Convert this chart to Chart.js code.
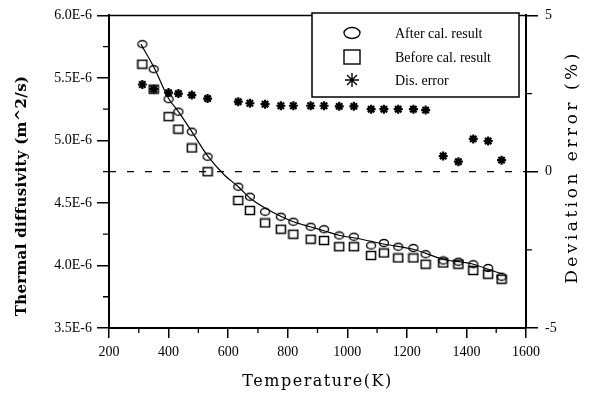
<!DOCTYPE html>
<html>
<head>
<meta charset="utf-8">
<script src="https://cdn.jsdelivr.net/npm/chart.js@4/dist/chart.umd.min.js"></script>
<style>
  html, body { margin: 0; padding: 0; background: #fff; }
  #wrap { width: 590px; height: 399px; }
</style>
</head>
<body>
<div id="wrap"><canvas id="chart"></canvas></div>
<script>
// Measurement temperatures (K)
const temps = [312, 350, 400, 433, 478, 531, 634, 673, 724, 777, 819, 877, 922,
  973, 1022, 1080, 1123, 1171, 1222, 1263, 1322, 1373, 1423, 1473, 1518];
// Thermal diffusivity, in units of 1E-6 m^2/s
const afterCal = [5.77, 5.57, 5.33, 5.23, 5.07, 4.87, 4.63, 4.55, 4.43, 4.39, 4.35, 4.31, 4.29,
  4.24, 4.23, 4.16, 4.18, 4.15, 4.14, 4.09, 4.04, 4.03, 4.01, 3.98, 3.91];
const beforeCal = [5.61, 5.41, 5.19, 5.09, 4.94, 4.75, 4.52, 4.44, 4.34, 4.29, 4.25, 4.21, 4.20,
  4.15, 4.15, 4.08, 4.10, 4.06, 4.06, 4.01, 4.02, 4.01, 3.96, 3.93, 3.89];
// Deviation error (%)
const disError = [2.79, 2.64, 2.53, 2.50, 2.45, 2.34, 2.24, 2.19, 2.16, 2.11, 2.11, 2.11, 2.11,
  2.09, 2.09, 2.00, 2.00, 2.00, 2.00, 1.97, 0.50, 0.32, 1.05, 0.98, 0.37];

// Fitted curve
const curveT = [307, 354, 399, 433, 478, 533, 589, 634, 673, 724, 780, 819, 875, 919,
  975, 1026, 1126, 1221, 1322, 1423, 1473, 1523];
const curveD = [5.77, 5.57, 5.34, 5.23, 5.07, 4.87, 4.72, 4.63, 4.54, 4.46, 4.39, 4.35, 4.31, 4.28,
  4.24, 4.22, 4.17, 4.13, 4.05, 4.01, 3.97, 3.93];

// Zero line of the deviation axis
const zeroT = [200, 1600];
const zeroE = [0, 0];

const seriesLabels = ["After cal. result", "Before cal. result", "Dis. error"];
const xTitle = "Temperature(K)";
const yTitle = "Thermal diffusivity (m^2/s)";
const y2Title = "Deviation error (%)";

const pts = (xs, ys) => xs.map((x, i) => ({x: x, y: ys[i]}));

// markers
function ellipseMarker(w, h) {
  const c = document.createElement('canvas');
  c.width = w + 3; c.height = h + 3;
  const g = c.getContext('2d');
  g.strokeStyle = '#000';
  g.lineWidth = 1.3;
  g.beginPath();
  g.ellipse(c.width / 2, c.height / 2, w / 2, h / 2, 0, 0, Math.PI * 2);
  g.stroke();
  return c;
}
function rectMarker(w, h) {
  const c = document.createElement('canvas');
  c.width = w + 3; c.height = h + 3;
  const g = c.getContext('2d');
  g.strokeStyle = '#000';
  g.lineWidth = 1.5;
  g.strokeRect(1.5, 1.5, w, h);
  return c;
}
const circleImg = ellipseMarker(9, 7);
const squareImg = rectMarker(9, 8);

function minorValues(scale) {
  const t = scale.ticks.map(k => k.value);
  const out = [];
  for (let i = 0; i < t.length - 1; i++) out.push((t[i] + t[i + 1]) / 2);
  return out;
}

// top border + minor ticks
const frame = {
  id: 'frame',
  afterDraw(chart) {
    const {ctx, chartArea: a, scales} = chart;
    ctx.save();
    ctx.strokeStyle = '#000';
    ctx.lineWidth = 1.5;
    ctx.beginPath();
    ctx.moveTo(a.left, a.top);
    ctx.lineTo(a.right, a.top);
    ctx.stroke();
    ctx.lineWidth = 1.3;
    ctx.beginPath();
    minorValues(scales.x).forEach(v => {
      const p = scales.x.getPixelForValue(v);
      ctx.moveTo(p, a.bottom); ctx.lineTo(p, a.bottom + 5);
    });
    minorValues(scales.y).forEach(v => {
      const p = scales.y.getPixelForValue(v);
      ctx.moveTo(a.left, p); ctx.lineTo(a.left - 6, p);
    });
    minorValues(scales.y2).forEach(v => {
      const p = scales.y2.getPixelForValue(v);
      ctx.moveTo(a.right, p); ctx.lineTo(a.right + 6, p);
    });
    ctx.stroke();
    ctx.restore();
  }
};

// axis titles (drawn here for letter spacing)
const axisTitles = {
  id: 'axisTitles',
  afterDraw(chart) {
    const {ctx, chartArea: a} = chart;
    ctx.save();
    ctx.fillStyle = '#000';
    ctx.textAlign = 'center';
    ctx.textBaseline = 'middle';

    ctx.font = '16px "DejaVu Serif"';
    ctx.letterSpacing = '1.5px';
    ctx.fillText(xTitle, (a.left + a.right) / 2, chart.height - 17);

    ctx.font = 'bold 15px "DejaVu Serif"';
    ctx.letterSpacing = '0.3px';
    ctx.save();
    ctx.translate(22, 196);
    ctx.rotate(-Math.PI / 2);
    ctx.fillText(yTitle, 0, 0);
    ctx.restore();

    ctx.font = '17px "DejaVu Serif"';
    ctx.letterSpacing = '3.5px';
    ctx.save();
    ctx.translate(573, 167);
    ctx.rotate(-Math.PI / 2);
    ctx.fillText(y2Title, 0, 0);
    ctx.restore();
    ctx.restore();
  }
};

// boxed legend inside the plot
const boxLegend = {
  id: 'boxLegend',
  afterDraw(chart) {
    const ctx = chart.ctx;
    const bx = 312, by = 13, bw = 207, bh = 84;
    ctx.save();
    ctx.fillStyle = '#fff';
    ctx.fillRect(bx, by, bw, bh);
    ctx.strokeStyle = '#000';
    ctx.lineWidth = 1.5;
    ctx.strokeRect(bx, by, bw, bh);

    const sx = 352, rows = [33, 57, 80];
    ctx.lineWidth = 1.3;
    ctx.beginPath();
    ctx.ellipse(sx, rows[0], 8, 5.5, 0, 0, Math.PI * 2);
    ctx.stroke();
    ctx.lineWidth = 1.4;
    ctx.strokeRect(sx - 8, rows[1] - 7, 16, 14);
    Chart.helpers.drawPoint(ctx, {pointStyle: 'star', radius: 7, borderWidth: 1.5}, sx, rows[2]);

    ctx.fillStyle = '#000';
    ctx.font = '14px "Liberation Serif"';
    ctx.textBaseline = 'middle';
    seriesLabels.forEach((t, i) => ctx.fillText(t, 395, rows[i] + 1));
    ctx.restore();
  }
};

const tickFont = {family: '"Liberation Serif"', size: 14};

new Chart(document.getElementById('chart'), {
  type: 'scatter',
  data: {
    datasets: [
      {
        label: 'curve',
        data: pts(curveT, curveD),
        showLine: true,
        borderColor: '#000',
        borderWidth: 1.2,
        pointRadius: 0,
        cubicInterpolationMode: 'monotone',
        yAxisID: 'y',
        order: 4
      },
      {
        label: 'zero',
        data: pts(zeroT, zeroE),
        showLine: true,
        borderColor: '#000',
        borderWidth: 1.3,
        borderDash: [7, 11],
        pointRadius: 0,
        yAxisID: 'y2',
        order: 5
      },
      {
        label: seriesLabels[0],
        data: pts(temps, afterCal),
        pointStyle: circleImg,
        yAxisID: 'y',
        order: 3
      },
      {
        label: seriesLabels[1],
        data: pts(temps, beforeCal),
        pointStyle: squareImg,
        yAxisID: 'y',
        order: 2
      },
      {
        label: seriesLabels[2],
        data: pts(temps, disError),
        pointStyle: 'star',
        pointRadius: 4.5,
        borderColor: '#000',
        backgroundColor: '#000',
        pointBorderWidth: 2.2,
        yAxisID: 'y2',
        order: 1
      }
    ]
  },
  options: {
    responsive: true,
    maintainAspectRatio: false,
    animation: false,
    layout: {padding: {top: 12, left: 0, right: 0, bottom: 0}},
    plugins: {
      legend: {display: false},
      tooltip: {enabled: false}
    },
    scales: {
      x: {
        type: 'linear',
        min: 200,
        max: 1600,
        afterFit: (s) => { s.height = 71; },
        border: {color: '#000', width: 2},
        grid: {drawOnChartArea: false, tickLength: 10, tickColor: '#000', lineWidth: 1.5},
        ticks: {
          stepSize: 200, color: '#000', font: tickFont, padding: 6, maxRotation: 0,
          callback: (v) => String(v)
        }
      },
      y: {
        position: 'left',
        min: 3.5,
        max: 6.0,
        afterFit: (s) => { s.width = 109; },
        border: {color: '#000', width: 2},
        grid: {drawOnChartArea: false, tickLength: 12, tickColor: '#000', lineWidth: 1.5},
        ticks: {
          stepSize: 0.5, color: '#000', font: tickFont, padding: 5,
          callback: (v) => v.toFixed(1) + 'E-6'
        }
      },
      y2: {
        position: 'right',
        min: -5,
        max: 5,
        afterFit: (s) => { s.width = 64; },
        border: {color: '#000', width: 2},
        grid: {drawOnChartArea: false, tickLength: 12, tickColor: '#000', lineWidth: 1.5},
        ticks: {stepSize: 5, color: '#000', font: tickFont, padding: 7}
      }
    }
  },
  plugins: [frame, axisTitles, boxLegend]
});
</script>
</body>
</html>
